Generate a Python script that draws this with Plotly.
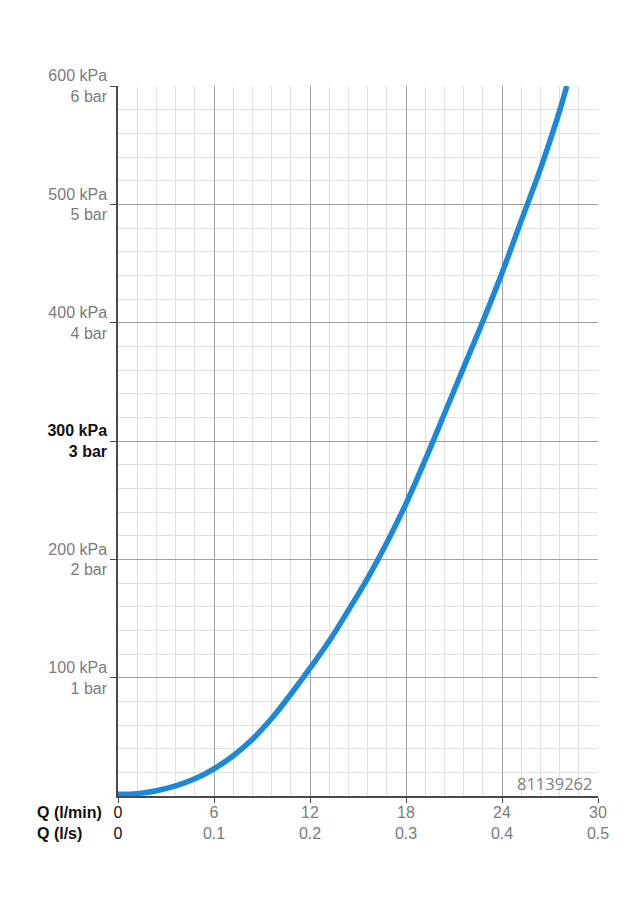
import plotly.graph_objects as go

# flow (l/min) and pressure loss (kPa)
flow_lmin = [0, 1.2, 2.4, 3.6, 4.8, 6, 7.2, 8.4, 9.6, 10.8, 12, 13.2, 14.4,
             15.6, 16.8, 18, 19.2, 20.4, 21.6, 22.8, 24, 25.2, 26.4, 27.6, 28.05]
pressure_kpa = [1.5, 2, 4.5, 8.5, 14.5, 23, 34, 48, 65.5, 86, 108, 131, 157,
                184, 214, 247, 284, 323, 362, 401, 442, 486, 530, 579, 600]

x_ticks = [0, 6, 12, 18, 24, 30]
x_labels_lmin = ['0', '6', '12', '18', '24', '30']
x_labels_ls = ['0', '0.1', '0.2', '0.3', '0.4', '0.5']

y_ticks = [100, 200, 300, 400, 500, 600]
y_labels_kpa = ['100 kPa', '200 kPa', '300 kPa', '400 kPa', '500 kPa', '600 kPa']
y_labels_bar = ['1 bar', '2 bar', '3 bar', '4 bar', '5 bar', '6 bar']
bold_y = 300

code_label = '81139262'

GREY = '#7b7b7b'
BLACK = '#111111'

xt = []
for v, a, b in zip(x_ticks, x_labels_lmin, x_labels_ls):
    if v == 0:
        xt.append("<span style='color:%s'>%s</span><br><span style='color:%s'>%s</span>" % (BLACK, a, BLACK, b))
    else:
        xt.append(a + '<br>' + b)

yt = []
for v, a, b in zip(y_ticks, y_labels_kpa, y_labels_bar):
    if v == bold_y:
        yt.append("<span style='color:%s'><b>%s</b><br><b>%s</b></span>" % (BLACK, a, b))
    else:
        yt.append(a + '<br>' + b)

fig = go.Figure()

fig.add_trace(go.Scatter(x=flow_lmin, y=pressure_kpa,
                         mode='lines',
                         line=dict(color='#1b88da', width=5.5, shape='spline', smoothing=1.0),
                         showlegend=False, hoverinfo='skip'))

fig.add_annotation(x=30, y=0, xref='x', yref='y', xanchor='right', yanchor='bottom',
                   xshift=-4, yshift=-1, text=code_label, showarrow=False,
                   font=dict(family='Open Sans', size=16.5, color='#808080'))

fig.add_annotation(x=0, y=0, xref='paper', yref='y', xanchor='left', yanchor='top',
                   xshift=-83, yshift=-6, align='left', showarrow=False,
                   text='<b>Q (l/min)</b><br><b>Q (l/s)</b>',
                   font=dict(family='Liberation Sans', size=16, color=BLACK))

# the page body adds an 8px offset, so margins are reduced by that
fig.update_layout(
    width=637, height=900,
    margin=dict(l=110, r=47, t=78, b=112),
    paper_bgcolor='white', plot_bgcolor='white',
    font=dict(family='Liberation Sans', size=16, color=GREY),
    xaxis=dict(range=[0, 30], tickmode='array', tickvals=x_ticks, ticktext=xt,
               showgrid=True, gridcolor='#a0a0a0', gridwidth=1,
               zeroline=False, showline=True, linecolor='#4a4a4a', linewidth=1.5,
               ticks='outside', ticklen=5, tickcolor='#4a4a4a',
               ticklabelstandoff=-4,
               tickfont=dict(size=16, color=GREY),
               minor=dict(tickmode='linear', tick0=0, dtick=1.2, showgrid=True,
                          gridcolor='#e0e0e0', gridwidth=1, ticks='')),
    yaxis=dict(range=[0, 600], tickmode='array', tickvals=y_ticks, ticktext=yt,
               showgrid=True, gridcolor='#a0a0a0', gridwidth=1,
               zeroline=False, showline=True, linecolor='#4a4a4a', linewidth=1.5,
               ticks='outside', ticklen=6, tickcolor='#4a4a4a',
               tickfont=dict(size=16, color=GREY),
               minor=dict(tickmode='linear', tick0=0, dtick=20, showgrid=True,
                          gridcolor='#e0e0e0', gridwidth=1, ticks='')),
)

fig.write_html("out.html")
